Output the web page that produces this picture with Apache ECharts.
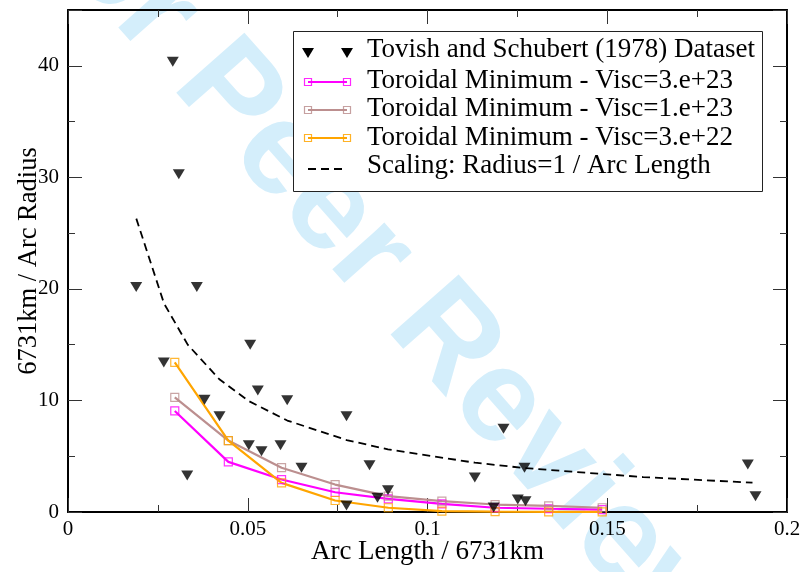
<!DOCTYPE html>
<html>
<head>
<meta charset="utf-8">
<script src="https://cdn.jsdelivr.net/npm/echarts@6/dist/echarts.min.js"></script>
<style>html,body{margin:0;padding:0;background:#fff}#c{width:801px;height:572px}</style>
</head>
<body>
<div id="c"></div>
<script>
// ---- data ----
var xTicks = [0, 0.05, 0.1, 0.15, 0.2];
var yTicks = [0, 10, 20, 30, 40];

var tovishX = [0.02915, 0.03082, 0.01897, 0.03583, 0.02665, 0.05068, 0.03797, 0.05280, 0.06097, 0.04214,
               0.05030, 0.05383, 0.05911, 0.06495, 0.03316, 0.07747, 0.07747, 0.08387, 0.08609, 0.08901,
               0.11316, 0.12114, 0.12698, 0.12511, 0.12726, 0.18910, 0.19124, 0.11840];
var tovishY = [40.36, 30.28, 20.16, 20.16, 13.41, 15.00, 10.07, 10.90, 10.01, 8.58,
               5.98, 5.44, 5.98, 3.96, 3.27, 8.58, 0.58, 4.19, 1.27, 1.95,
               3.09, 7.46, 3.96, 1.12, 0.97, 4.25, 1.41, 0.40];

var modelX = [0.0297, 0.0446, 0.0594, 0.0743, 0.0891, 0.1040, 0.1188, 0.1337, 0.1486];
var visc3e23 = [9.06, 4.49, 2.91, 1.77, 1.18, 0.73, 0.38, 0.29, 0.22];
var visc1e23 = [10.28, 6.40, 3.97, 2.46, 1.42, 0.97, 0.67, 0.55, 0.38];
var visc3e22 = [13.41, 6.40, 2.61, 1.03, 0.38, 0.08, 0.03, 0.02, 0.02];

var scalingX = [0.0190, 0.0267, 0.0333, 0.0421, 0.0503, 0.0610, 0.0775, 0.0890, 0.1132, 0.1270, 0.1600, 0.1904];
var scalingY = [26.3, 18.7, 15.0, 11.9, 9.94, 8.20, 6.45, 5.62, 4.42, 3.94, 3.13, 2.63];

var legendNames = [
  'Tovish and Schubert (1978) Dataset',
  'Toroidal Minimum - Visc=3.e+23',
  'Toroidal Minimum - Visc=1.e+23',
  'Toroidal Minimum - Visc=3.e+22',
  'Scaling: Radius=1 / Arc Length'
];
var colors = ['#000000', '#ff00ff', '#bc8f8f', '#ffa500', '#000000'];

function pairs(xs, ys) { return xs.map(function (x, i) { return [x, ys[i]]; }); }

var serif = 'Liberation Serif, Times New Roman, serif';

var chart = echarts.init(document.getElementById('c'), null, {renderer: 'canvas'});

function axisBase(extra) {
  var a = {
    type: 'value',
    axisLine: {show: true, onZero: false, lineStyle: {color: '#000', width: 2}},
    axisTick: {show: true, inside: true, length: 14, lineStyle: {color: '#333', width: 1}},
    minorTick: {show: true, splitNumber: 2, length: 7, lineStyle: {color: '#333', width: 1}},
    splitLine: {show: false},
    minorSplitLine: {show: false}
  };
  for (var k in extra) a[k] = extra[k];
  return a;
}

var xMin = xTicks[0], xMax = xTicks[xTicks.length - 1], xInt = xTicks[1] - xTicks[0];
var yMin = yTicks[0], yInt = yTicks[1] - yTicks[0], yMax = 45;

var lineSeries = [visc3e23, visc1e23, visc3e22].map(function (ys, i) {
  return {
    type: 'line',
    name: legendNames[i + 1],
    data: pairs(modelX, ys),
    symbol: 'rect',
    symbolSize: 8,
    showSymbol: true,
    lineStyle: {color: colors[i + 1], width: 2.2},
    itemStyle: {color: 'rgba(0,0,0,0)', borderColor: colors[i + 1], borderWidth: 1.2, opacity: 0.8},
    z: 3,
    animation: false
  };
});

// legend drawn as graphic (icons: two triangles / line with end squares / dashed)
var lg = [];
var boxL = 293, boxT = 31, boxR = 762, boxB = 191;
lg.push({type: 'rect', shape: {x: boxL + 0.5, y: boxT + 0.5, width: boxR - boxL, height: boxB - boxT},
  style: {fill: '#fff', stroke: '#222', lineWidth: 1}, z: 10});
var rowY = [53, 82, 110, 138, 169];
var textY = [50, 80.5, 109, 137.5, 166];
var iconL = 308, iconR = 347, textX = 367;
[iconL, iconR].forEach(function (x) {
  lg.push({type: 'polygon', shape: {points: [[x - 6, rowY[0] - 5], [x + 6, rowY[0] - 5], [x, rowY[0] + 5]]},
    style: {fill: '#000'}, z: 11});
});
for (var r = 1; r <= 3; r++) {
  lg.push({type: 'line', shape: {x1: iconL, y1: rowY[r], x2: iconR, y2: rowY[r]},
    style: {stroke: colors[r], lineWidth: 2}, z: 11});
  [iconL, iconR].forEach(function (x) {
    lg.push({type: 'rect', shape: {x: x - 3.5, y: rowY[r] - 3.5, width: 7, height: 7},
      style: {fill: 'rgba(0,0,0,0)', stroke: colors[r], lineWidth: 1.2, opacity: 0.85}, z: 12});
  });
}
lg.push({type: 'line', shape: {x1: iconL, y1: rowY[4], x2: iconR - 3, y2: rowY[4]},
  style: {stroke: '#000', lineWidth: 1.8, lineDash: [8, 5]}, z: 11});
legendNames.forEach(function (n, i) {
  lg.push({type: 'text', x: textX, y: textY[i],
    style: {text: n, fill: '#000', font: '27px ' + serif, verticalAlign: 'middle', align: 'left'}, z: 11});
});

// watermark
lg.push({type: 'text', x: 373, y: 260, rotation: -0.846, silent: true, z: -10,
  style: {text: 'For Peer Review', fill: '#d4eefb', font: 'bold 132px Liberation Sans, Arial, sans-serif',
    align: 'center', verticalAlign: 'middle'}});

var option = {
  backgroundColor: '#fff',
  animation: false,
  grid: {left: 68, right: 14, top: 10, bottom: 60, containLabel: false, outerBoundsMode: 'none'},
  xAxis: [
    axisBase({
      position: 'bottom', min: xMin, max: xMax, interval: xInt,
      axisLabel: {show: true, color: '#000', fontSize: 21, fontFamily: serif, margin: 7,
        formatter: function (v) { return String(v); }},
      name: 'Arc Length / 6731km', nameLocation: 'middle', nameGap: 26, nameMoveOverlap: false,
      nameTextStyle: {color: '#000', fontSize: 27, fontFamily: serif, verticalAlign: 'top'}
    }),
    axisBase({position: 'top', min: xMin, max: xMax, interval: xInt, axisLabel: {show: false}})
  ],
  yAxis: [
    axisBase({
      position: 'left', min: yMin, max: yMax, interval: yInt,
      axisLabel: {show: true, color: '#000', fontSize: 21, fontFamily: serif, margin: 9,
        formatter: function (v) { return yTicks.indexOf(v) >= 0 ? String(v) : ''; }},
      name: '6731km / Arc Radius', nameLocation: 'middle', nameGap: 25, nameRotate: 90, nameMoveOverlap: false,
      nameTextStyle: {color: '#000', fontSize: 26.5, fontFamily: serif}
    }),
    axisBase({position: 'right', min: yMin, max: yMax, interval: yInt, axisLabel: {show: false}})
  ],
  series: [
    {
      type: 'scatter', name: legendNames[0], data: pairs(tovishX, tovishY),
      symbol: 'triangle', symbolRotate: 180, symbolSize: [12, 10],
      itemStyle: {color: '#000'}, z: 5
    },
    {
      type: 'line', name: legendNames[4], data: pairs(scalingX, scalingY),
      symbol: 'none', lineStyle: {color: '#000', width: 1.8, type: [8, 5]}, z: 2
    }
  ].concat(lineSeries),
  graphic: lg
};
chart.setOption(option);
</script>
</body>
</html>
